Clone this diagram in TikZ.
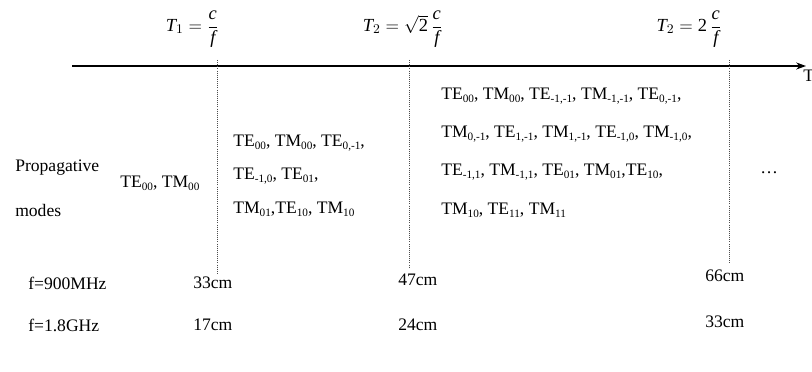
\documentclass[tikz,border=0pt]{standalone}
\usepackage{amsmath}
\usepackage{fontspec}
\setmainfont{Liberation Serif}
\usetikzlibrary{arrows.meta}

\newcommand{\sbm}[1]{\raisebox{-0.4ex}{\fontsize{8}{8}\selectfont #1}}
\newcommand{\modTE}[1]{TE\sbm{#1}}
\newcommand{\modTM}[1]{TM\sbm{#1}}

\begin{document}
\begin{tikzpicture}[x=0.025cm, y=-0.025cm, font=\fontsize{12.5}{15}\selectfont,
		modo/.style={anchor=west, inner sep=0pt},
		corte/.style={anchor=east, inner sep=0pt, scale=1.05},
		guia/.style={densely dotted, line width=0.5pt, black!70}]
	\useasboundingbox (0,0) rectangle (812,372);
	% eje
	\coordinate (ini) at (72,66);
	\coordinate (fin) at (806,66);
	\draw[line width=0.9pt, -{Stealth[length=7pt, width=5pt]}] (ini) -- (fin);
	\node[anchor=north west, inner sep=0pt] (eje) at (803,70) {T};
	% cortes
	\coordinate (c1a) at (217,60); \coordinate (c1b) at (217,275);
	\coordinate (c2a) at (409,60); \coordinate (c2b) at (409,268);
	\coordinate (c3a) at (729,60); \coordinate (c3b) at (729,264);
	\draw[guia] (c1a) -- (c1b);
	\draw[guia] (c2a) -- (c2b);
	\draw[guia] (c3a) -- (c3b);
	\node[corte] (t1) at (219,29) {$\textit{T}_1=\dfrac{\textit{c}}{\textit{f}}$};
	\node[corte] (t2) at (443,29) {$\textit{T}_2=\sqrt{\text{2}}\,\dfrac{\textit{c}}{\textit{f}}$};
	\node[corte] (t3) at (722,29) {$\textit{T}_2=\text{2}\,\dfrac{\textit{c}}{\textit{f}}$};
	% modos
	\node[modo] (prop) at (15,168) {Propagative};
	\node[modo] (mod) at (15,210) {modes};
	\node[modo] (b0) at (120,183) {\modTE{00}, \modTM{00}};
	\node[modo] (b1a) at (233,143) {\modTE{00}, \modTM{00}, \modTE{0,-1},};
	\node[modo] (b1b) at (233,176) {\modTE{-1,0}, \modTE{01},};
	\node[modo] (b1c) at (233,209) {\modTM{01},\modTE{10}, \modTM{10}};
	\node[modo] (b2a) at (441,96) {\modTE{00}, \modTM{00}, \modTE{-1,-1}, \modTM{-1,-1}, \modTE{0,-1},};
	\node[modo] (b2b) at (441,134) {\modTM{0,-1}, \modTE{1,-1}, \modTM{1,-1}, \modTE{-1,0}, \modTM{-1,0},};
	\node[modo] (b2c) at (441,172) {\modTE{-1,1}, \modTM{-1,1}, \modTE{01}, \modTM{01},\modTE{10},};
	\node[modo] (b2d) at (441,210) {\modTM{10}, \modTE{11}, \modTM{11}};
	\node[modo] (mas) at (760,173) {\dots};
	% longitudes
	\node[modo] (f1) at (28,283) {f=900MHz};
	\node[modo] (f2) at (28,325) {f=1.8GHz};
	\node[modo] (l11) at (193,283) {33cm};
	\node[modo] (l12) at (398,280) {47cm};
	\node[modo] (l13) at (705,276) {66cm};
	\node[modo] (l21) at (193,325) {17cm};
	\node[modo] (l22) at (398,325) {24cm};
	\node[modo] (l23) at (705,322) {33cm};
\end{tikzpicture}
\end{document}
